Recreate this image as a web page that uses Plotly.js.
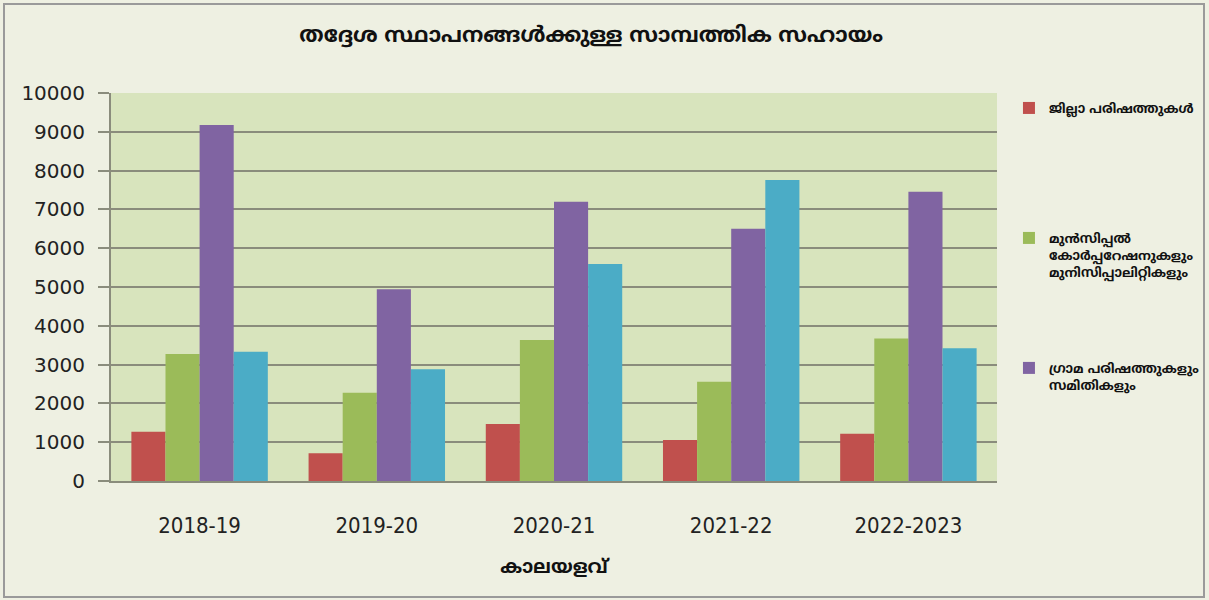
<!DOCTYPE html>
<html>
<head>
<meta charset="utf-8">
<script src="https://cdn.plot.ly/plotly-3.0.1.min.js"></script>
<style>
html,body{margin:0;padding:0;background:#ffffff;}
#chart{width:1209px;height:600px;}
</style>
</head>
<body>
<div id="chart"></div>
<script>
const categories = ["2018-19", "2019-20", "2020-21", "2021-22", "2022-2023"];
const seriesNames = [
  "ജില്ലാ പരിഷത്തുകൾ",
  "മുൻസിപ്പൽ<br>കോർപ്പറേഷനുകളും<br>മുനിസിപ്പാലിറ്റികളും",
  "ഗ്രാമ പരിഷത്തുകളും<br>സമിതികളും",
  ""
];
const districtValues = [1270, 715, 1470, 1055, 1220];
const municipalValues = [3270, 2275, 3635, 2560, 3675];
const gramaValues = [9175, 4940, 7200, 6500, 7455];
const fourthValues = [3330, 2880, 5590, 7760, 3420];
const yTicks = [0, 1000, 2000, 3000, 4000, 5000, 6000, 7000, 8000, 9000, 10000];

const colors = ["#c0504d", "#9bbb59", "#8064a2", "#4bacc6"];
const values = [districtValues, municipalValues, gramaValues, fourthValues];
const legendIds = ["legend", "legend2", "legend3", "legend"];

const traces = values.map((v, i) => ({
  type: "bar",
  x: categories,
  y: v,
  name: seriesNames[i],
  legend: legendIds[i],
  showlegend: i < 3,
  marker: {color: colors[i], line: {width: 0}},
  hoverinfo: "x+y"
}));

const ml = "'Noto Sans Malayalam', 'Noto Sans', 'DejaVu Sans', sans-serif";
const legendFont = {family: ml, size: 13, color: "#111111", weight: "bold"};
function mkLegend(yTop) {
  return {
    x: 1.0135, xanchor: "left",
    y: yTop, yanchor: "top",
    valign: "top",
    itemwidth: 30,
    bgcolor: "rgba(0,0,0,0)",
    font: legendFont
  };
}

const layout = {
  width: 1209, height: 600,
  paper_bgcolor: "#eef0e2",
  plot_bgcolor: "#d8e4bd",
  margin: {l: 111, r: 212, t: 93, b: 119, autoexpand: false},
  barmode: "group",
  bargap: 0.23,
  bargroupgap: 0,
  title: {
    text: "തദ്ദേശ സ്ഥാപനങ്ങൾക്കുള്ള സാമ്പത്തിക സഹായം",
    x: 0.489, xref: "container", xanchor: "center",
    y: 0.943, yref: "container", yanchor: "middle",
    font: {family: ml, size: 21.5, color: "#111111", weight: "bold"}
  },
  xaxis: {
    type: "category",
    showgrid: false,
    showline: true, linecolor: "#8a8c7c", linewidth: 2,
    ticks: "",
    ticklabelstandoff: 24,
    tickfont: {family: "'DejaVu Sans Condensed', 'DejaVu Sans', sans-serif", size: 22, color: "#222222"},
    title: {text: "കാലയളവ്", standoff: 22, font: {family: ml, size: 19, color: "#111111", weight: "bold"}},
    fixedrange: true
  },
  yaxis: {
    range: [0, 10000],
    tickvals: yTicks,
    ticktext: yTicks.map(String),
    showgrid: true, gridcolor: "#8a8c7c", gridwidth: 2,
    showline: true, linecolor: "#8a8c7c", linewidth: 2,
    ticks: "outside", ticklen: 11, tickcolor: "#8a8c7c", tickwidth: 2,
    ticklabelstandoff: 9,
    zeroline: false,
    tickfont: {family: "'DejaVu Sans', sans-serif", size: 20, color: "#222222"},
    fixedrange: true
  },
  legend: mkLegend(1.0),
  legend2: mkLegend(0.665),
  legend3: mkLegend(0.33),
  shapes: [{
    type: "rect", xref: "paper", yref: "paper",
    x0: (4 - 111) / 886, x1: (1204 - 111) / 886,
    y0: (481 - 597) / 388, y1: (481 - 4) / 388,
    line: {color: "#9a9a9a", width: 2},
    fillcolor: "rgba(0,0,0,0)",
    layer: "below"
  }],
  showlegend: true
};

Plotly.newPlot("chart", traces, layout, {displayModeBar: false, staticPlot: true});
</script>
</body>
</html>
